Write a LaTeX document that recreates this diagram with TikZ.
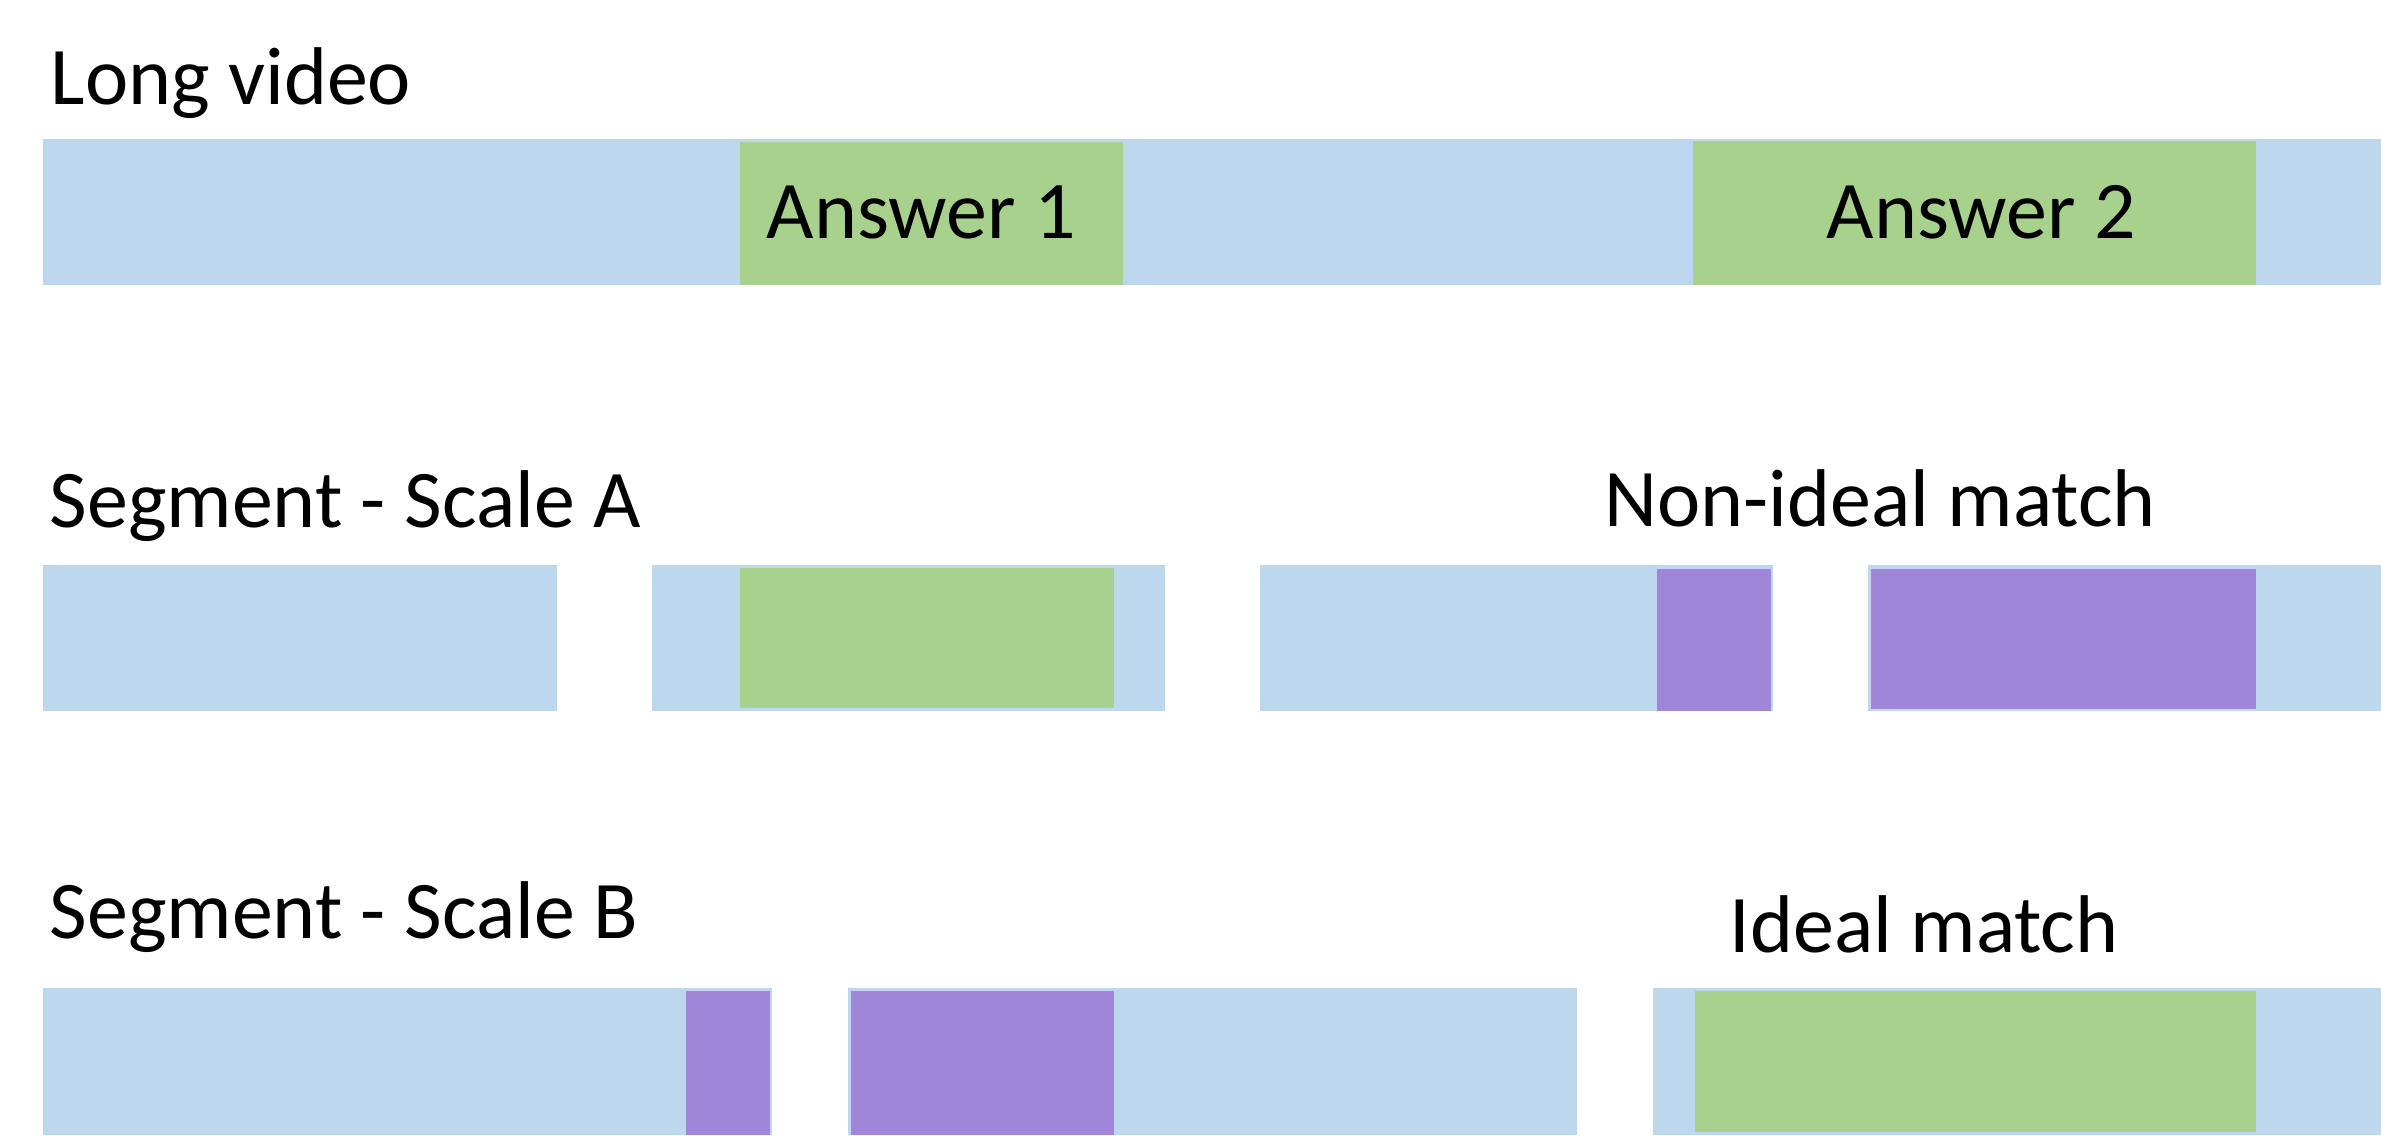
\documentclass[tikz,border=0pt]{standalone}
\usepackage{fontspec}
\setmainfont{Carlito}
\definecolor{segblue}{HTML}{BDD7EE}
\definecolor{ansgreen}{HTML}{A9D18E}
\definecolor{hitpurple}{HTML}{9F86D9}
\begin{document}
\begin{tikzpicture}[x=0.1mm, y=-0.1mm, font=\fontsize{23.3}{28}\selectfont,
	seg/.style={fill=segblue},
	ans/.style={fill=ansgreen},
	hit/.style={fill=hitpurple},
	lbl/.style={anchor=base west, inner sep=0pt}]
	\useasboundingbox (0,0) rectangle (2381,1135);
	\node[lbl] (longlbl) at (50,104) {Long video};
	\fill[seg] (43,139) rectangle (2381,285);
	\fill[ans] (740,142) rectangle (1123,285);
	\node[lbl] (answera) at (766,238) {Answer 1};
	\fill[ans] (1693,141) rectangle (2256,285);
	\node[lbl] (answerb) at (1826,238) {Answer 2};
	\node[lbl] (scalea) at (49,527) {Segment - Scale A};
	\node[lbl] (nonideal) at (1604,526) {Non-ideal match};
	\fill[seg] (43,565) rectangle (557,711);
	\fill[seg] (652,565) rectangle (1165,711);
	\fill[ans] (740,568) rectangle (1114,708);
	\fill[seg] (1260,565) rectangle (1773,711);
	\fill[hit] (1657,569) rectangle (1771,711);
	\fill[seg] (1868,565) rectangle (2381,711);
	\fill[hit] (1871,569) rectangle (2256,709);
	\node[lbl] (scaleb) at (49,938) {Segment - Scale B};
	\node[lbl] (ideal) at (1729,952) {Ideal match};
	\fill[seg] (43,988) rectangle (772,1135);
	\fill[hit] (686,991) rectangle (770,1135);
	\fill[seg] (848,988) rectangle (1577,1135);
	\fill[hit] (851,991) rectangle (1114,1135);
	\fill[seg] (1653,988) rectangle (2381,1135);
	\fill[ans] (1695,991) rectangle (2256,1132);
\end{tikzpicture}
\end{document}
